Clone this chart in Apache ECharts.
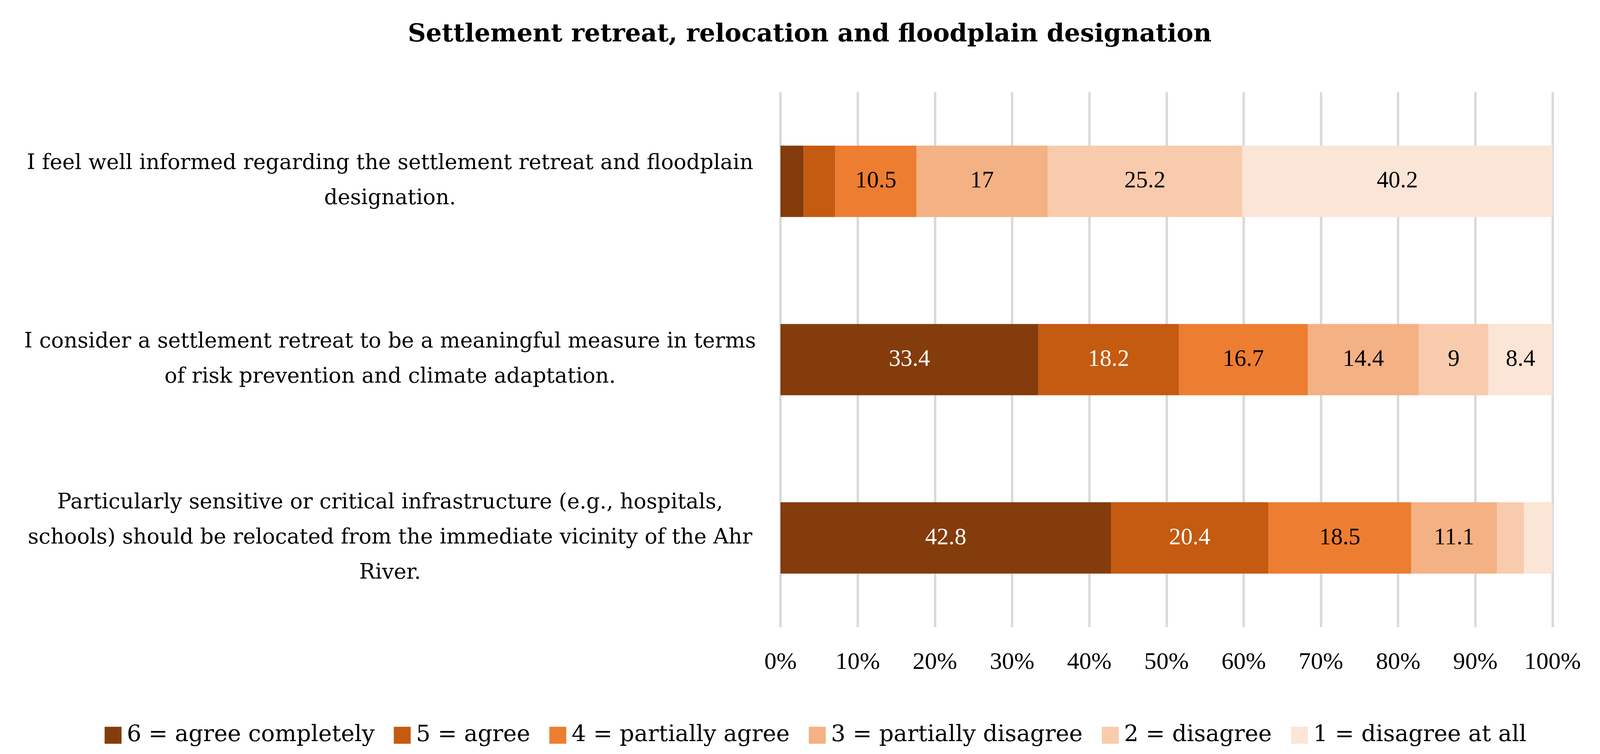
<!DOCTYPE html>
<html>
<head>
<meta charset="utf-8">
<script src="https://cdn.jsdelivr.net/npm/echarts@6/dist/echarts.min.js"></script>
<style>
html,body{margin:0;padding:0;background:#fff;overflow:hidden;}
#chart{width:100vw;height:100vh;}
</style>
</head>
<body>
<div id="chart"></div>
<script>
const titleText = 'Settlement retreat, relocation and floodplain designation';
const categories = [
  'I feel well informed regarding the settlement retreat and floodplain\ndesignation.',
  'I consider a settlement retreat to be a meaningful measure in terms\nof risk prevention and climate adaptation.',
  'Particularly sensitive or critical infrastructure (e.g., hospitals,\nschools) should be relocated from the immediate vicinity of the Ahr\nRiver.'
];
const seriesNames = ['6 = agree completely', '5 = agree', '4 = partially agree', '3 = partially disagree', '2 = disagree', '1 = disagree at all'];
const agreeCompletely = [3.0, 33.4, 42.8];
const agree = [4.1, 18.2, 20.4];
const partiallyAgree = [10.5, 16.7, 18.5];
const partiallyDisagree = [17, 14.4, 11.1];
const disagree = [25.2, 9, 3.5];
const disagreeAtAll = [40.2, 8.4, 3.7];
const seriesValues = [agreeCompletely, agree, partiallyAgree, partiallyDisagree, disagree, disagreeAtAll];
const tickValues = [0, 10, 20, 30, 40, 50, 60, 70, 80, 90, 100];

const colors = ['#843C0C', '#C55A11', '#ED7D31', '#F4B183', '#F8CBAD', '#FBE5D6'];
const labelColors = ['#ffffff', '#ffffff', '#000000', '#000000', '#000000', '#000000'];
const textFont = 'DejaVu Serif';
const numFont = 'Liberation Serif';

// layout designed for a 4348 x 1931 viewport; scale to the actual one
const el = document.getElementById('chart');
const W = el.clientWidth || window.innerWidth;
const H = el.clientHeight || window.innerHeight;
const kx = W / 4348, ky = H / 1931, k = Math.min(kx, ky);

const chart = echarts.init(el, null, {renderer: 'canvas'});
chart.setOption({
  backgroundColor: '#ffffff',
  animation: false,
  title: {
    text: titleText,
    left: 2195 * kx,
    textAlign: 'center',
    top: 52 * ky,
    textStyle: {fontFamily: textFont, fontWeight: 'bold', fontSize: 68 * k, color: '#000000'}
  },
  legend: {
    data: seriesNames,
    left: 279 * kx,
    top: 1849 * ky,
    itemWidth: 46 * k,
    itemHeight: 46 * k,
    itemGap: 52 * k,
    icon: 'rect',
    textStyle: {fontFamily: textFont, fontSize: 62 * k, color: '#000000', padding: [0, 0, 0, 9 * k]}
  },
  grid: {left: 2121 * kx, right: 129 * kx, top: 236 * ky, bottom: 325 * ky},
  xAxis: {
    type: 'value',
    min: tickValues[0],
    max: tickValues[tickValues.length - 1],
    interval: tickValues[1] - tickValues[0],
    axisLine: {show: false},
    axisTick: {show: false},
    splitLine: {show: true, lineStyle: {color: '#D9D9D9', width: 6.5 * k}},
    axisLabel: {
      formatter: '{value}%',
      fontFamily: numFont,
      fontSize: 66 * k,
      color: '#000000',
      margin: 60 * ky
    }
  },
  yAxis: {
    type: 'category',
    data: categories,
    inverse: true,
    axisLine: {show: false},
    axisTick: {show: false},
    axisLabel: {
      align: 'center',
      margin: 1061 * kx,
      fontFamily: textFont,
      fontSize: 57.5 * k,
      lineHeight: 90 * ky,
      color: '#000000'
    }
  },
  series: seriesNames.map((name, i) => ({
    name: name,
    type: 'bar',
    stack: 'total',
    barWidth: '40%',
    data: seriesValues[i],
    itemStyle: {color: colors[i]},
    label: {
      show: true,
      position: 'inside',
      fontFamily: numFont,
      fontSize: 64 * k,
      color: labelColors[i],
      formatter: p => (p.value < 5 ? '' : String(p.value))
    }
  }))
});
</script>
</body>
</html>
